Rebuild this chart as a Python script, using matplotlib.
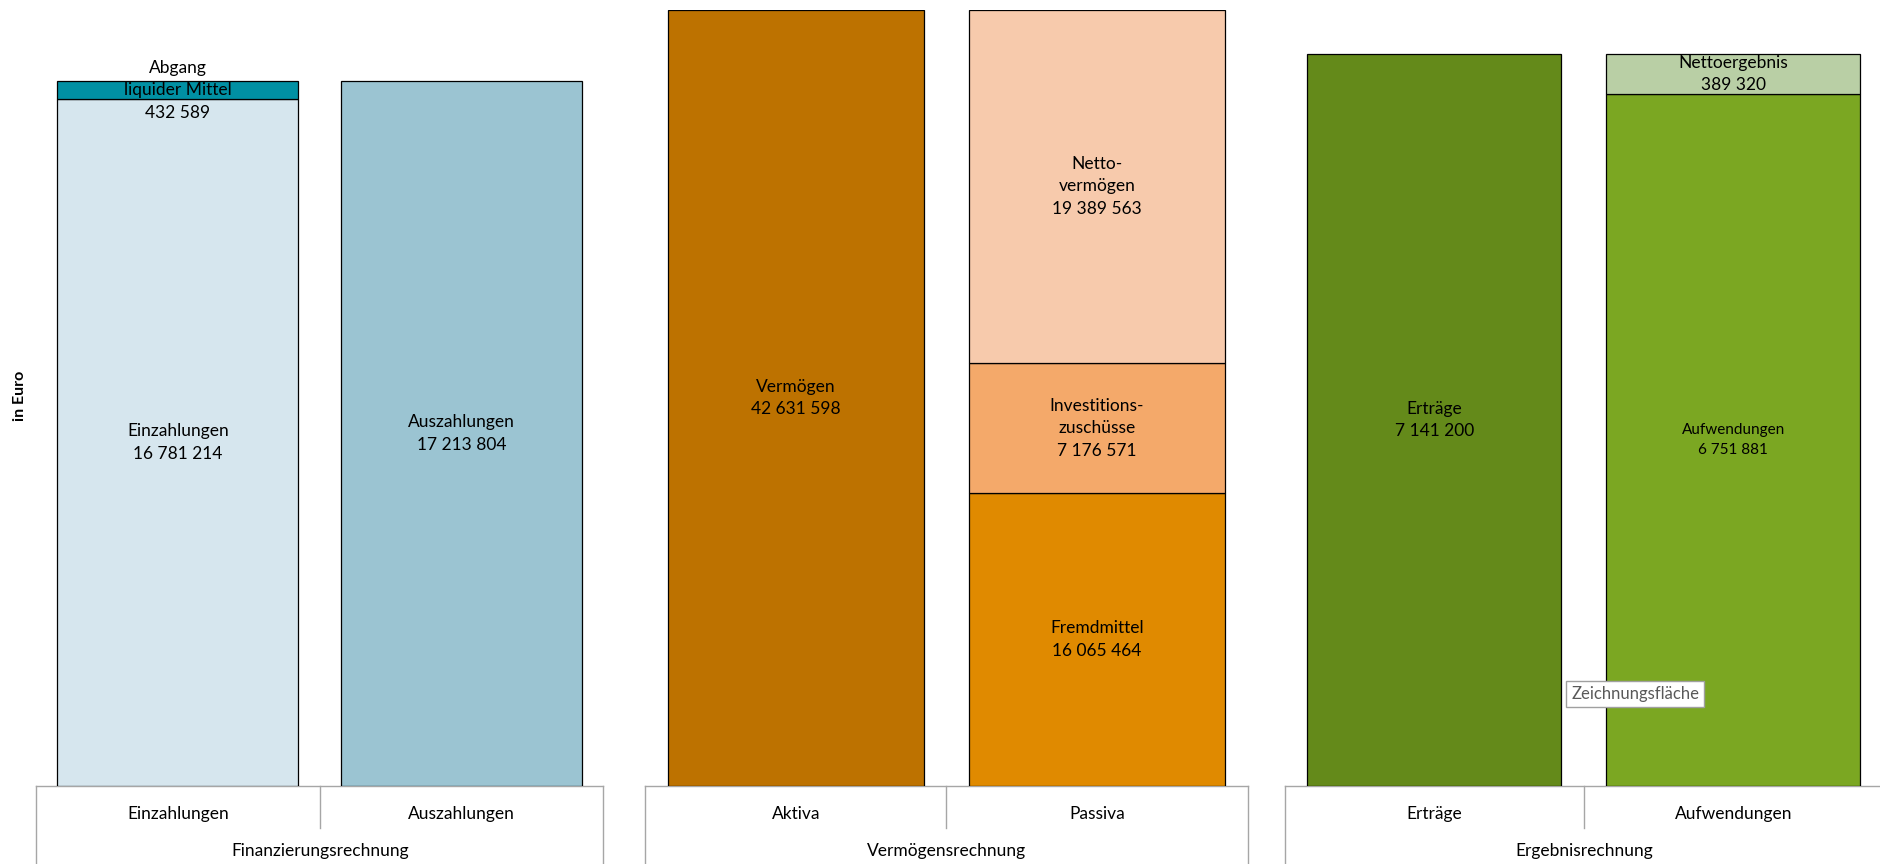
import matplotlib.pyplot as plt

plt.rcParams['font.family'] = ['Lato', 'DejaVu Sans']
plt.rcParams['text.color'] = '#000000'

# Finanzierungsrechnung
fin_categories = ['Einzahlungen', 'Auszahlungen']
einzahlungen = 16781214
abgang_liquider_mittel = 432589
auszahlungen = 17213804

# Vermögensrechnung
verm_categories = ['Aktiva', 'Passiva']
vermoegen = 42631598
fremdmittel = 16065464
investitionszuschuesse = 7176571
nettovermoegen = 19389563

# Ergebnisrechnung
erg_categories = ['Erträge', 'Aufwendungen']
ertraege = 7141200
aufwendungen = 6751881
nettoergebnis = 389320

group_titles = ['Finanzierungsrechnung', 'Vermögensrechnung', 'Ergebnisrechnung']
# each chart has its own scale (upper y limit)
y_tops = [18.97e6, 42.63e6, 7.575e6]

LINE = '#A6A6A6'
BAR_W = 0.85
FS = 12.5


def fmt(v):
    return f'{v:,}'.replace(',', ' ')


def segment(ax, x, bottom, value, color, label, fs=FS):
    ax.bar(x, value, bottom=bottom, width=BAR_W, color=color,
           edgecolor='black', linewidth=0.9, zorder=3)
    ax.text(x, bottom + value / 2, label + '\n' + fmt(value),
            ha='center', va='center', fontsize=fs, linespacing=1.5, zorder=4)


def table_frame(ax, cats, title):
    # Excel-like category boxes below the plot area
    kw = dict(transform=ax.transAxes, color=LINE, lw=1, clip_on=False)
    ax.plot([0, 1], [0, 0], **kw)
    ax.plot([0, 0], [0, -0.15], **kw)
    ax.plot([1, 1], [0, -0.15], **kw)
    ax.plot([0.5, 0.5], [0, -0.054], **kw)
    for i, c in enumerate(cats):
        ax.text(0.25 + 0.5 * i, -0.0355, c, transform=ax.transAxes,
                ha='center', va='center', fontsize=FS)
    ax.text(0.5, -0.084, title, transform=ax.transAxes,
            ha='center', va='center', fontsize=FS)


fig = plt.figure(figsize=(18.81, 8.64), dpi=100)
W, H = 1568, 720
bottom = 1 - 655 / H
height = (655 - 8) / H
boxes = [(30, 503), (538, 1040), (1071, 1569.5)]
axes = [fig.add_axes([l / W, bottom, (r - l) / W, height]) for l, r in boxes]

for ax, ytop in zip(axes, y_tops):
    ax.set_xlim(-0.5, 1.5)
    ax.set_ylim(0, ytop)
    ax.set_xticks([])
    ax.set_yticks([])
    for s in ax.spines.values():
        s.set_visible(False)

# Finanzierungsrechnung
ax = axes[0]
segment(ax, 0, 0, einzahlungen, '#D6E6EE', 'Einzahlungen')
segment(ax, 0, einzahlungen, abgang_liquider_mittel, '#0090A3', 'Abgang\nliquider Mittel')
segment(ax, 1, 0, auszahlungen, '#9BC4D2', 'Auszahlungen')
table_frame(ax, fin_categories, group_titles[0])

# Vermögensrechnung
ax = axes[1]
segment(ax, 0, 0, vermoegen, '#BD7200', 'Vermögen')
segment(ax, 1, 0, fremdmittel, '#E08A00', 'Fremdmittel')
segment(ax, 1, fremdmittel, investitionszuschuesse, '#F4A96A', 'Investitions-\nzuschüsse')
segment(ax, 1, fremdmittel + investitionszuschuesse, nettovermoegen, '#F7CAAC', 'Netto-\nvermögen')
table_frame(ax, verm_categories, group_titles[1])

# Ergebnisrechnung
ax = axes[2]
segment(ax, 0, 0, ertraege, '#648A1A', 'Erträge')
segment(ax, 1, 0, aufwendungen, '#7BA722', 'Aufwendungen', fs=11)
segment(ax, 1, aufwendungen, nettoergebnis, '#B9CFA5', 'Nettoergebnis')
table_frame(ax, erg_categories, group_titles[2])

fig.text(17 / W, 1 - 330 / H, 'in Euro', rotation=90, fontweight='bold',
         fontsize=11.5, ha='center', va='center')

# tooltip left in the screenshot
fig.text(1310 / W, 1 - 578 / H, 'Zeichnungsfläche', fontsize=12, color='#595959',
         ha='left', va='center',
         bbox=dict(facecolor='white', edgecolor='#A0A0A0', boxstyle='square,pad=0.3'))

fig.savefig('out.png', dpi=100, facecolor='white')
